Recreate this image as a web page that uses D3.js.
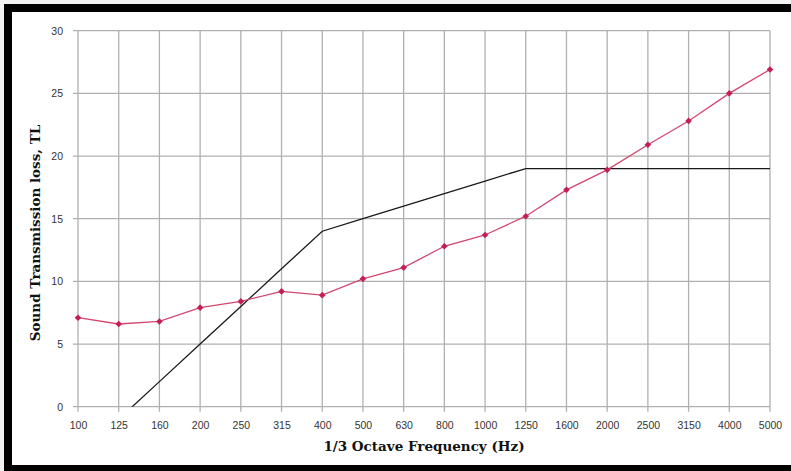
<!DOCTYPE html>
<html>
<head>
<meta charset="utf-8">
<script src="https://cdn.jsdelivr.net/npm/d3@7"></script>
<style>
  body { margin: 0; background: #f2f2f2; overflow: hidden; }
  svg { display: block; }
</style>
</head>
<body>
<script>
const width = 791;
const height = 471;

// 1/3 octave bands
const bands = ["100", "125", "160", "200", "250", "315", "400", "500", "630", "800",
  "1000", "1250", "1600", "2000", "2500", "3150", "4000", "5000"];
// measured transmission loss (pink)
const measured = [7.1, 6.6, 6.8, 7.9, 8.4, 9.2, 8.9, 10.2, 11.1, 12.8,
  13.7, 15.2, 17.3, 18.9, 20.9, 22.8, 25.0, 26.9];
// reference curve (black), starts below zero at 125 Hz
const refBands = ["125", "160", "200", "250", "315", "400", "500", "630", "800",
  "1000", "1250", "1600", "2000", "2500", "3150", "4000", "5000"];
const reference = [-1, 2, 5, 8, 11, 14, 15, 16, 17, 18, 19, 19, 19, 19, 19, 19, 19];
const yTicks = [0, 5, 10, 15, 20, 25, 30];

const margin = {left: 78, right: 21, top: 30.7, bottom: 64.3};

const svg = d3.select("body")
  .append("svg")
  .attr("width", width)
  .attr("height", height);

// frame
svg.append("rect")
  .attr("x", 4).attr("y", 4)
  .attr("width", width - 4).attr("height", height - 4)
  .attr("fill", "black");
svg.append("rect")
  .attr("x", 12).attr("y", 12)
  .attr("width", width - 12).attr("height", height - 18)
  .attr("fill", "white");

const x = d3.scalePoint()
  .domain(bands)
  .range([margin.left, width - margin.right]);

const y = d3.scaleLinear()
  .domain([0, 30])
  .range([height - margin.bottom, margin.top]);

// grid
svg.append("g")
  .selectAll("line")
  .data(bands)
  .enter()
  .append("line")
  .attr("x1", d => x(d)).attr("x2", d => x(d))
  .attr("y1", y(30)).attr("y2", y(0) + 5)
  .attr("stroke", "#b0b0b0")
  .attr("stroke-width", 1.3);

svg.append("g")
  .selectAll("line")
  .data(yTicks)
  .enter()
  .append("line")
  .attr("x1", x("100") - 5).attr("x2", x("5000"))
  .attr("y1", d => y(d)).attr("y2", d => y(d))
  .attr("stroke", "#b0b0b0")
  .attr("stroke-width", 1.3);

// axes (labels only)
const yAxis = svg.append("g")
  .attr("transform", "translate(" + (margin.left - 12) + ",0)")
  .call(d3.axisLeft(y).tickValues(yTicks).tickSize(0));
const xAxis = svg.append("g")
  .attr("transform", "translate(0," + (y(0) + 12) + ")")
  .call(d3.axisBottom(x).tickSize(0));

[yAxis, xAxis].forEach(g => {
  g.select(".domain").remove();
  g.selectAll("text")
    .attr("fill", "#333")
    .style("font-family", "Liberation Sans, Arial, sans-serif")
    .style("font-size", "10.5px");
});

// clip for reference curve
svg.append("clipPath")
  .attr("id", "plot")
  .append("rect")
  .attr("x", x("100")).attr("y", y(30))
  .attr("width", x("5000") - x("100"))
  .attr("height", y(0) - y(30));

const refData = refBands.map((b, i) => ({band: b, v: reference[i]}));
const measData = bands.map((b, i) => ({band: b, v: measured[i]}));

const line = d3.line()
  .x(d => x(d.band))
  .y(d => y(d.v));

svg.append("path")
  .datum(refData)
  .attr("d", line)
  .attr("clip-path", "url(#plot)")
  .attr("fill", "none")
  .attr("stroke", "#1a1a1a")
  .attr("stroke-width", 1.3);

svg.append("path")
  .datum(measData)
  .attr("d", line)
  .attr("fill", "none")
  .attr("stroke", "#d2476f")
  .attr("stroke-width", 1.3);

svg.append("g")
  .selectAll("path")
  .data(measData)
  .enter()
  .append("path")
  .attr("transform", d => "translate(" + x(d.band) + "," + y(d.v) + ") rotate(45)")
  .attr("d", d3.symbol().type(d3.symbolSquare).size(22))
  .attr("fill", "#c41f55");

// titles
svg.append("text")
  .attr("x", (x("100") + x("5000")) / 2)
  .attr("y", 451)
  .attr("text-anchor", "middle")
  .style("font-family", "DejaVu Serif, serif")
  .style("font-weight", "bold")
  .style("font-size", "13.5px")
  .attr("fill", "#111")
  .text("1/3 Octave Frequency (Hz)");

svg.append("text")
  .attr("transform", "translate(40," + 233 + ") rotate(-90)")
  .attr("text-anchor", "middle")
  .style("font-family", "DejaVu Serif, serif")
  .style("font-weight", "bold")
  .style("font-size", "13.5px")
  .attr("fill", "#111")
  .text("Sound Transmission loss, TL");
</script>
</body>
</html>
